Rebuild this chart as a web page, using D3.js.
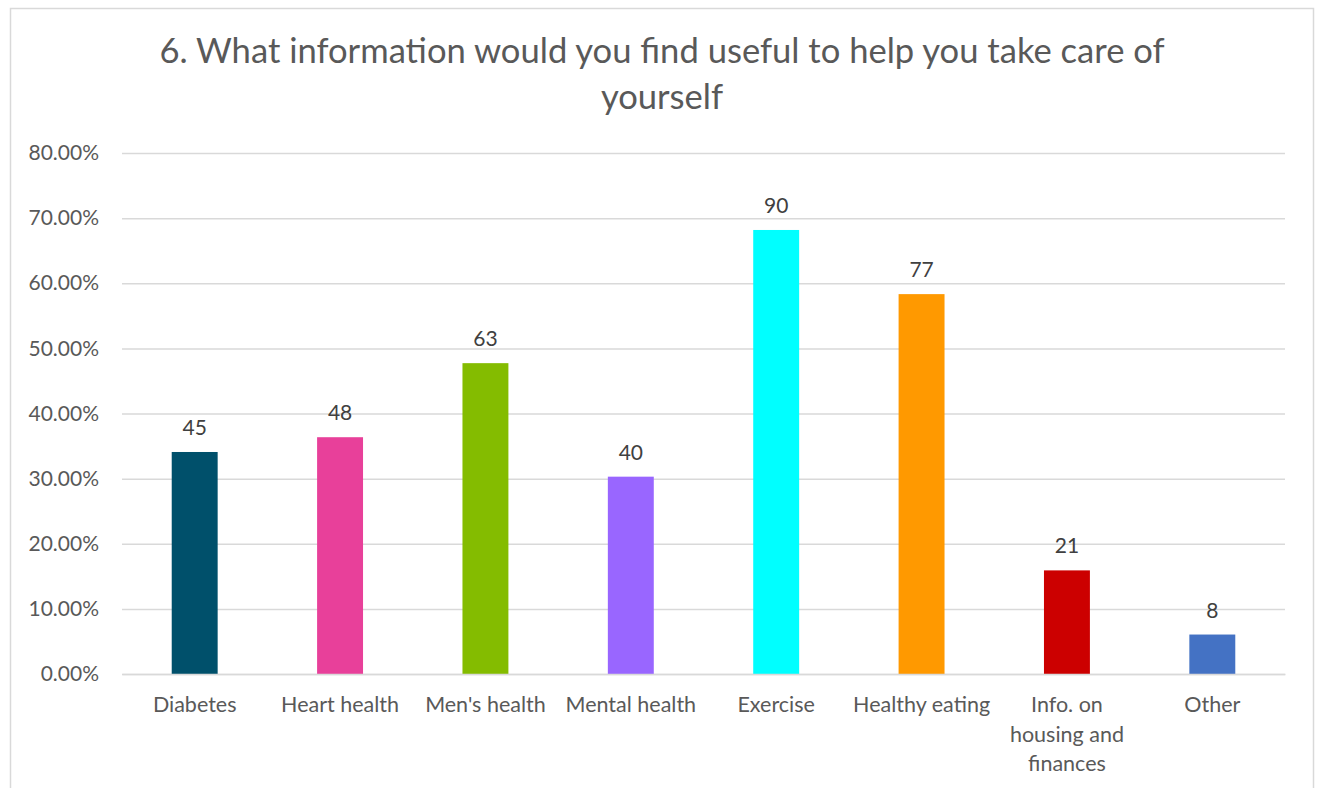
<!DOCTYPE html>
<html>
<head>
<meta charset="utf-8">
<script src="https://cdn.jsdelivr.net/npm/d3@7"></script>
<style>
  body { margin: 0; background: #fff; }
  svg { display: block; font-family: Lato, "Noto Sans", sans-serif; }
</style>
</head>
<body>
<div id="chart"></div>
<script>
// survey answers (share of respondents + raw count)
const categories = ['Diabetes', 'Heart health', "Men's health", 'Mental health', 'Exercise', 'Healthy eating', 'Info. on housing and finances', 'Other'];
const percents = [34.09, 36.36, 47.73, 30.30, 68.18, 58.33, 15.91, 6.06];
const counts = [45, 48, 63, 40, 90, 77, 21, 8];
const barColors = ['#00506b', '#e8409a', '#84bc00', '#9966ff', '#00ffff', '#ff9900', '#cc0000', '#4472c4'];
const yTicks = [0, 10, 20, 30, 40, 50, 60, 70, 80];
const titleLines = ['6. What information would you find useful to help you take care of', 'yourself'];

const W = 1317, H = 788;
const textCol = '#595959';

const svg = d3.select('#chart').append('svg')
  .attr('width', W)
  .attr('height', H);

// chart frame
svg.append('rect')
  .attr('x', 10.5).attr('y', 8.5)
  .attr('width', 1303).attr('height', 800)
  .attr('fill', '#fff')
  .attr('stroke', '#d9d9d9')
  .attr('stroke-width', 1.5);

const x = d3.scaleBand()
  .domain(categories)
  .range([122, 1285])
  .paddingInner(0.684)
  .paddingOuter(0.342);

const y = d3.scaleLinear()
  .domain([0, 80])
  .range([674, 153]);

// title
svg.append('text')
  .attr('x', 662)
  .attr('y', 63)
  .attr('text-anchor', 'middle')
  .attr('fill', textCol)
  .style('font-size', '34.6px')
  .selectAll('tspan')
  .data(titleLines)
  .enter().append('tspan')
  .attr('x', 662)
  .attr('dy', (d, i) => i ? 46 : 0)
  .text(d => d);

// gridlines
const yAxis = svg.append('g')
  .attr('transform', 'translate(122,0)')
  .call(d3.axisLeft(y).tickValues(yTicks).tickSize(-1163).tickFormat(d => d.toFixed(2) + '%'));
yAxis.select('.domain').remove();
yAxis.selectAll('.tick line').attr('stroke', '#d9d9d9').attr('stroke-width', 1.5);
yAxis.selectAll('.tick text')
  .attr('x', -23)
  .attr('fill', textCol)
  .style('font-size', '21px')
  .style('font-family', 'Lato, sans-serif');

// bars
svg.selectAll('.bar')
  .data(categories)
  .enter().append('rect')
  .attr('class', 'bar')
  .attr('x', d => x(d))
  .attr('width', x.bandwidth())
  .attr('y', (d, i) => y(percents[i]))
  .attr('height', (d, i) => y(0) - y(percents[i]))
  .attr('fill', (d, i) => barColors[i]);

// data labels
svg.selectAll('.val')
  .data(categories)
  .enter().append('text')
  .attr('class', 'val')
  .attr('x', d => x(d) + x.bandwidth() / 2)
  .attr('y', (d, i) => y(percents[i]) - 17)
  .attr('text-anchor', 'middle')
  .attr('fill', '#404040')
  .style('font-size', '21px')
  .text((d, i) => counts[i]);

// category labels, wrapped to the band step
const xAxis = svg.append('g')
  .attr('transform', 'translate(0,674)')
  .call(d3.axisBottom(x).tickSize(0).tickPadding(0));
xAxis.select('.domain').attr('stroke', '#d9d9d9').attr('stroke-width', 1.5);
xAxis.selectAll('.tick text')
  .attr('fill', textCol)
  .style('font-size', '21.5px')
  .style('font-family', 'Lato, sans-serif')
  .call(wrap, x.step());

function wrap(texts, width) {
  texts.each(function () {
    const t = d3.select(this);
    const words = t.text().split(/\s+/);
    t.text(null);
    let line = [];
    let n = 0;
    let tspan = t.append('tspan').attr('x', 0).attr('y', 38).attr('dy', 0);
    words.forEach(w => {
      line.push(w);
      tspan.text(line.join(' '));
      if (tspan.node().getComputedTextLength() > width - 8 && line.length > 1) {
        line.pop();
        tspan.text(line.join(' '));
        line = [w];
        n++;
        tspan = t.append('tspan').attr('x', 0).attr('y', 38).attr('dy', n * 29.5).text(w);
      }
    });
  });
}
</script>
</body>
</html>
